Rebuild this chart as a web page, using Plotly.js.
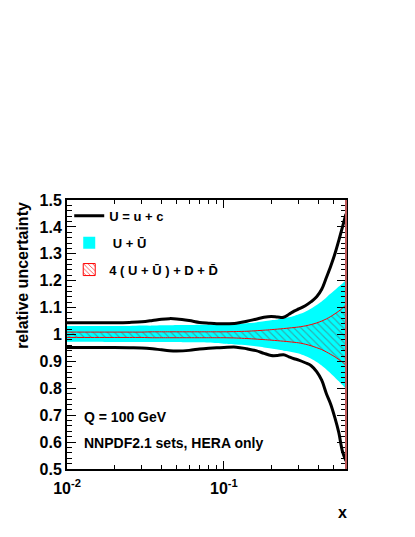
<!DOCTYPE html>
<html>
<head>
<meta charset="utf-8">
<script src="https://cdn.plot.ly/plotly-3.0.1.min.js"></script>
<style>
  html, body { margin: 0; padding: 0; background: #fff; }
  #plot { width: 415px; height: 537px; }
</style>
</head>
<body>
<div id="plot"></div>
<script>
// x grid shared by all curves
const xs = [0.01, 0.015, 0.02, 0.025, 0.03, 0.035, 0.04, 0.045, 0.05, 0.06, 0.07, 0.08, 0.09, 0.1,
    0.12, 0.14, 0.16, 0.18, 0.2, 0.22, 0.24, 0.26, 0.28, 0.3, 0.33, 0.36, 0.39, 0.42, 0.45, 0.48,
    0.51, 0.54, 0.57, 0.6];

// U = u + c  (black lines)
const uUp = [1.044, 1.044, 1.044, 1.045, 1.047, 1.052, 1.057, 1.059, 1.058, 1.052, 1.045, 1.042, 1.040, 1.040,
    1.042, 1.049, 1.057, 1.064, 1.067, 1.065, 1.064, 1.075, 1.087, 1.095, 1.107, 1.122, 1.14, 1.168, 1.212, 1.255,
    1.30, 1.35, 1.40, 1.448];
const uDn = [0.952, 0.952, 0.952, 0.951, 0.950, 0.947, 0.943, 0.940, 0.939, 0.941, 0.946, 0.949, 0.951, 0.952,
    0.953, 0.947, 0.940, 0.930, 0.922, 0.922, 0.925, 0.917, 0.910, 0.905, 0.895, 0.884, 0.862, 0.830, 0.780, 0.740,
    0.690, 0.635, 0.565, 0.53];

// U + Ubar  (cyan band)
const ubUp = [1.032, 1.032, 1.032, 1.032, 1.033, 1.033, 1.034, 1.034, 1.035, 1.035, 1.036, 1.036, 1.037, 1.038,
    1.039, 1.042, 1.045, 1.049, 1.053, 1.056, 1.060, 1.064, 1.069, 1.075, 1.085, 1.097, 1.11, 1.123, 1.138, 1.152,
    1.165, 1.178, 1.19, 1.20];
const ubDn = [0.973, 0.973, 0.972, 0.972, 0.972, 0.972, 0.972, 0.972, 0.972, 0.971, 0.971, 0.970, 0.968, 0.966,
    0.963, 0.960, 0.956, 0.952, 0.948, 0.944, 0.940, 0.937, 0.933, 0.929, 0.920, 0.910, 0.898, 0.885, 0.870, 0.855,
    0.840, 0.826, 0.812, 0.80];

// 4(U + Ubar) + D + Dbar  (red hatched band)
const dvUp = [1.009, 1.009, 1.009, 1.009, 1.009, 1.010, 1.010, 1.010, 1.010, 1.010, 1.010, 1.010, 1.010, 1.010,
    1.011, 1.012, 1.014, 1.016, 1.018, 1.020, 1.022, 1.024, 1.026, 1.028, 1.032, 1.037, 1.043, 1.050, 1.058, 1.067,
    1.077, 1.087, 1.098, 1.108];
const dvDn = [0.989, 0.989, 0.989, 0.989, 0.989, 0.988, 0.988, 0.988, 0.988, 0.988, 0.988, 0.988, 0.988, 0.988,
    0.987, 0.985, 0.983, 0.981, 0.979, 0.977, 0.975, 0.973, 0.971, 0.969, 0.964, 0.958, 0.951, 0.944, 0.935, 0.926,
    0.917, 0.907, 0.897, 0.888];

const names = ['U = u + c', ' U + U\u0304', '4 ( U + U\u0304 ) + D + D\u0304'];
const xTickVals = [0.01, 0.1];
const xTickText = ['10<sup>-2</sup>', '10<sup>-1</sup>'];

const fontFam = '"Liberation Sans", Arial, Helvetica, sans-serif';
const hatchPattern = { shape: '\\', size: 5, solidity: 0.22, fgcolor: 'rgba(130,30,30,0.75)', fillmode: 'overlay' };

// closed band outline: upper edge left->right, lower edge right->left
function band(lo, hi) {
    return {
        x: xs.concat(xs.slice().reverse()),
        y: hi.concat(lo.slice().reverse())
    };
}

const traces = [];

const cyan = band(ubDn, ubUp);
traces.push({ x: cyan.x, y: cyan.y, mode: 'lines', fill: 'toself', fillcolor: '#00ffff',
    line: { width: 0, color: '#00ffff', shape: 'spline', smoothing: 0.8 },
    showlegend: false, hoverinfo: 'skip' });

const hatch = band(dvDn, dvUp);
traces.push({ x: hatch.x, y: hatch.y, mode: 'lines', fill: 'toself', fillcolor: 'rgba(0,0,0,0)',
    line: { width: 1, color: '#ff0000', shape: 'spline', smoothing: 0.8 },
    fillpattern: hatchPattern, showlegend: false, hoverinfo: 'skip' });

// black lines
traces.push({ x: xs, y: uUp, mode: 'lines', line: { width: 3, color: '#000', shape: 'spline' },
    name: names[0], legendgroup: 'a', legendrank: 1 });
traces.push({ x: xs, y: uDn, mode: 'lines', line: { width: 3, color: '#000', shape: 'spline' },
    showlegend: false, legendgroup: 'a' });

// legend-only boxes for the two bands (boxed symbols like the ROOT legend); the null value draws no bar
traces.push({ type: 'bar', x: [xs[0]], y: [null], name: names[1], legendgroup: 'b', legendrank: 2,
    marker: { color: '#00ffff', line: { width: 0 } }, hoverinfo: 'skip' });
traces.push({ type: 'bar', x: [xs[0]], y: [null], name: names[2], legendgroup: 'c', legendrank: 3,
    marker: { color: '#ffffff', line: { width: 1, color: '#ff0000' },
        pattern: { shape: '\\', size: 4, solidity: 0.25, fgcolor: '#ff3030', bgcolor: '#ffffff' } },
    hoverinfo: 'skip' });

const layout = {
    width: 415,
    height: 537,
    font: { family: fontFam, color: '#000', weight: 'bold' },
    plot_bgcolor: '#ffffff',
    paper_bgcolor: '#ffffff',
    margin: { t: 200, r: 69, b: 68, l: 67 },
    showlegend: true,
    legend: {
        x: 0.008, y: 0.997, xanchor: 'left', yanchor: 'top',
        bgcolor: 'rgba(0,0,0,0)',
        font: { size: 13, family: fontFam, weight: 'bold' },
        traceorder: 'grouped',
        tracegroupgap: 7
    },
    xaxis: {
        type: 'log',
        range: [-2, Math.log10(0.6)],
        autorange: false,
        tickmode: 'array',
        tickvals: xTickVals,
        ticktext: xTickText,
        ticks: 'inside',
        ticklen: 8,
        tickcolor: '#000',
        ticklabelstandoff: 4,
        tickfont: { size: 16, family: fontFam, weight: 'bold' },
        showline: true, linecolor: '#000', linewidth: 2,
        mirror: 'ticks',
        showgrid: false, zeroline: false,
        minor: { dtick: 'D1', ticks: 'inside', ticklen: 4, tickcolor: '#000', showgrid: false }
    },
    yaxis: {
        range: [0.5, 1.5],
        autorange: false,
        dtick: 0.1,
        ticks: 'inside',
        ticklen: 9,
        tickcolor: '#000',
        tickfont: { size: 16, family: fontFam, weight: 'bold' },
        showline: true, linecolor: '#000', linewidth: 2,
        mirror: 'ticks',
        showgrid: false, zeroline: false,
        minor: { dtick: 0.02, ticks: 'inside', ticklen: 5, tickcolor: '#000', showgrid: false }
    },
    shapes: [
        { type: 'line', xref: 'paper', yref: 'paper', x0: 1, x1: 1, y0: 0, y1: 1,
          line: { color: '#c05a5a', width: 2 } }
    ],
    annotations: [
        { text: 'Q = 100 GeV', xref: 'paper', yref: 'paper', x: 0.054, y: 0.193,
          xanchor: 'left', yanchor: 'middle', showarrow: false, font: { size: 14, weight: 'bold' } },
        { text: 'NNPDF2.1 sets, HERA only', xref: 'paper', yref: 'paper', x: 0.054, y: 0.097,
          xanchor: 'left', yanchor: 'middle', showarrow: false, font: { size: 14, weight: 'bold' } },
        { text: 'x', xref: 'paper', yref: 'paper', x: 0.986, y: -0.16,
          xanchor: 'center', yanchor: 'middle', showarrow: false, font: { size: 16, weight: 'bold' } },
        { text: 'relative uncertainty', xref: 'paper', yref: 'paper', x: -0.16, y: 1,
          xanchor: 'center', yanchor: 'top', textangle: -90, showarrow: false,
          font: { size: 16, weight: 'bold' } }
    ]
};

Plotly.newPlot('plot', traces, layout, { displayModeBar: false, responsive: false });
</script>
</body>
</html>
